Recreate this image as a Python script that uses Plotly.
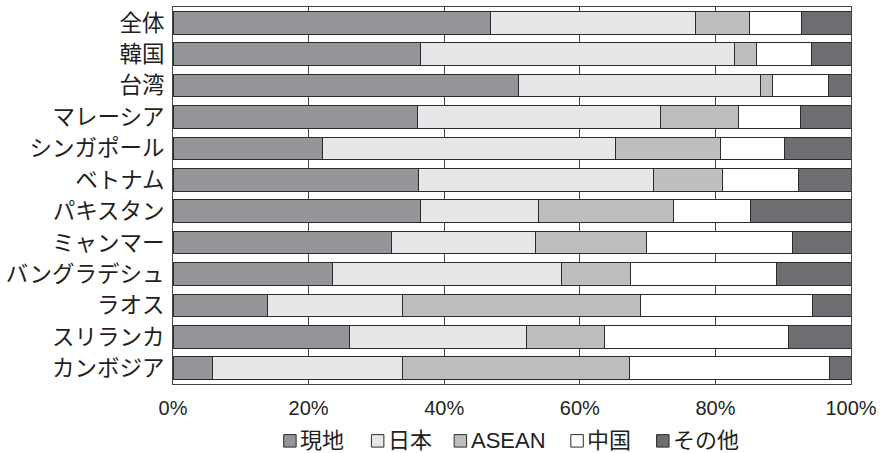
import plotly.graph_objects as go

categories = ["全体", "韓国", "台湾", "マレーシア", "シンガポール", "ベトナム", "パキスタン",
              "ミャンマー", "バングラデシュ", "ラオス", "スリランカ", "カンボジア"]
series_names = ["現地", "日本", "ASEAN", "中国", "その他"]
local = [46.9, 36.45, 51.0, 36.0, 22.1, 36.25, 36.55, 32.3, 23.5, 14.0, 26.05, 5.8]
japan = [30.2, 46.4, 35.7, 35.95, 43.2, 34.55, 17.3, 21.15, 33.8, 19.9, 26.1, 28.0]
asean = [8.0, 3.15, 1.7, 11.45, 15.5, 10.3, 19.95, 16.45, 10.25, 35.1, 11.45, 33.5]
china = [7.55, 8.2, 8.26, 9.15, 9.35, 11.15, 11.4, 21.4, 21.45, 25.3, 27.25, 29.5]
other = [7.35, 5.8, 3.34, 7.45, 9.85, 7.75, 14.8, 8.7, 11.0, 5.7, 9.15, 3.2]
tick_vals = [0, 20, 40, 60, 80, 100]
tick_text = ["0%", "20%", "40%", "60%", "80%", "100%"]

colors = ["#939598", "#e6e7e8", "#bcbec0", "#ffffff", "#6d6e71"]
data = [local, japan, asean, china, other]

font_family = "Liberation Sans, Noto Sans CJK JP, sans-serif"
W, H = 883, 453
ML, MR, MT, MB = 171, 32, 6, 69
PW, PH = W - ML - MR, H - MT - MB

fig = go.Figure()
for name, vals, col in zip(series_names, data, colors):
    fig.add_trace(go.Bar(
        y=categories, x=vals, name=name, orientation="h",
        marker=dict(color=col, line=dict(color="#2b2b2b", width=1)),
        width=0.72, showlegend=False,
    ))

# legend drawn as boxes + text below the plot (pixel layout converted to paper coords)
legend_item_px = [282, 370, 453, 570, 656]
legend_y_px = 441
box = 12.5


def px_x(p):
    return (p - ML) / PW


def px_y(p):
    return (H - MB - p) / PH


shapes = []
annotations = []
for name, col, x0 in zip(series_names, colors, legend_item_px):
    shapes.append(dict(
        type="rect", xref="paper", yref="paper",
        x0=px_x(x0), x1=px_x(x0 + box),
        y0=px_y(legend_y_px + box / 2), y1=px_y(legend_y_px - box / 2),
        fillcolor=col, line=dict(color="#2b2b2b", width=1),
    ))
    annotations.append(dict(
        text=name, xref="paper", yref="paper",
        x=px_x(x0 + box + 2), y=px_y(legend_y_px),
        xanchor="left", yanchor="middle", showarrow=False,
        font=dict(size=22, family=font_family, color="#231f20"),
    ))

fig.update_layout(
    barmode="stack",
    width=W, height=H,
    margin=dict(l=ML, r=MR, t=MT, b=MB),
    paper_bgcolor="white", plot_bgcolor="white",
    font=dict(family=font_family, size=22, color="#231f20"),
    showlegend=False,
    shapes=shapes, annotations=annotations,
)
fig.update_xaxes(
    range=[0, 100], tickvals=tick_vals, ticktext=tick_text,
    showgrid=True, gridcolor="#444444", gridwidth=1,
    showline=True, linecolor="#444444", linewidth=1, mirror=True,
    ticks="", zeroline=False, ticklabelstandoff=6,
    tickfont=dict(size=20, family="Liberation Sans, Arial, sans-serif"),
)
fig.update_yaxes(
    autorange="reversed", showgrid=False,
    showline=True, linecolor="#444444", linewidth=1, mirror=True,
    ticks="", ticklabelstandoff=3, tickfont=dict(size=22.5),
)

fig.write_html("out.html")
